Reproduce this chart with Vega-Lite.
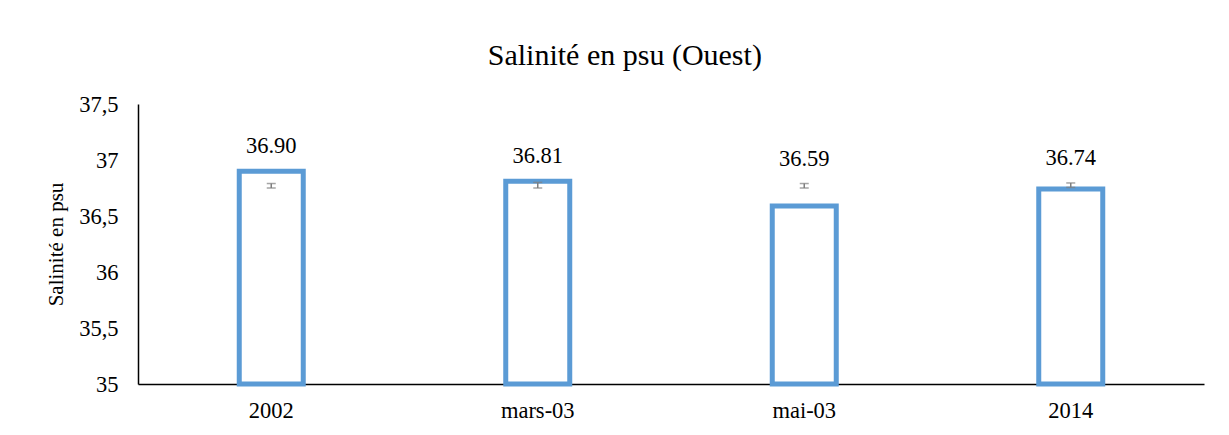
{
  "$schema": "https://vega.github.io/schema/vega-lite/v6.json",
  "width": 1066,
  "height": 280,
  "autosize": "none",
  "padding": {"left": 138, "top": 104, "right": 25, "bottom": 51},
  "background": "white",
  "config": {"view": {"stroke": null}, "font": "Liberation Serif"},
  "title": {
    "text": "Salinité en psu (Ouest)",
    "font": "Liberation Serif",
    "fontSize": 30,
    "fontWeight": "normal",
    "color": "#000000",
    "anchor": "middle",
    "frame": "bounds",
    "offset": 22
  },
  "data": {
    "values": [
      {"periode": "2002", "salinite": 36.90, "lo": 36.75, "hi": 36.79},
      {"periode": "mars-03", "salinite": 36.81, "lo": 36.75, "hi": 36.80},
      {"periode": "mai-03", "salinite": 36.59, "lo": 36.75, "hi": 36.79},
      {"periode": "2014", "salinite": 36.74, "lo": 36.755, "hi": 36.795}
    ]
  },
  "encoding": {
    "x": {
      "field": "periode",
      "type": "nominal",
      "sort": null,
      "scale": {"paddingInner": 0, "paddingOuter": 0},
      "axis": {
        "title": null,
        "labelAngle": 0,
        "labelFont": "Liberation Serif",
        "labelFontSize": 22.5,
        "labelColor": "#000000",
        "labelPadding": 15,
        "ticks": false,
        "domainColor": "#000000",
        "domainWidth": 1.5
      }
    }
  },
  "layer": [
    {
      "mark": {"type": "bar", "size": 64, "fill": "white", "stroke": "#5B9BD5", "strokeWidth": 5},
      "encoding": {
        "y": {
          "field": "salinite",
          "type": "quantitative",
          "scale": {"domain": [35, 37.5], "zero": false, "nice": false},
          "axis": {
            "values": [35, 35.5, 36, 36.5, 37, 37.5],
            "labelExpr": "replace(toString(datum.value), '.', ',')",
            "title": "Salinité en psu",
            "titleFont": "Liberation Serif",
            "titleFontSize": 21,
            "titleFontWeight": "normal",
            "titleColor": "#000000",
            "titlePadding": 12,
            "labelFont": "Liberation Serif",
            "labelFontSize": 22.5,
            "labelColor": "#000000",
            "labelPadding": 20,
            "ticks": false,
            "grid": false,
            "domainColor": "#000000",
            "domainWidth": 1.5
          }
        },
        "y2": {"datum": 35}
      }
    },
    {
      "mark": {"type": "rule", "color": "#7F7F7F", "strokeWidth": 1.5},
      "encoding": {
        "y": {"field": "lo", "type": "quantitative"},
        "y2": {"field": "hi"}
      }
    },
    {
      "mark": {"type": "tick", "color": "#7F7F7F", "size": 9, "thickness": 1.5},
      "encoding": {"y": {"field": "lo", "type": "quantitative"}}
    },
    {
      "mark": {"type": "tick", "color": "#7F7F7F", "size": 9, "thickness": 1.5},
      "encoding": {"y": {"field": "hi", "type": "quantitative"}}
    },
    {
      "transform": [
        {"fold": ["salinite", "hi"], "as": ["k", "v"]},
        {"aggregate": [{"op": "max", "field": "v", "as": "top"}, {"op": "max", "field": "salinite", "as": "salinite"}], "groupby": ["periode"]}
      ],
      "mark": {"type": "text", "baseline": "bottom", "dy": -13, "font": "Liberation Serif", "fontSize": 22.5, "color": "#000000"},
      "encoding": {
        "y": {"field": "top", "type": "quantitative"},
        "text": {"field": "salinite", "type": "quantitative", "format": ".2f"}
      }
    }
  ]
}
